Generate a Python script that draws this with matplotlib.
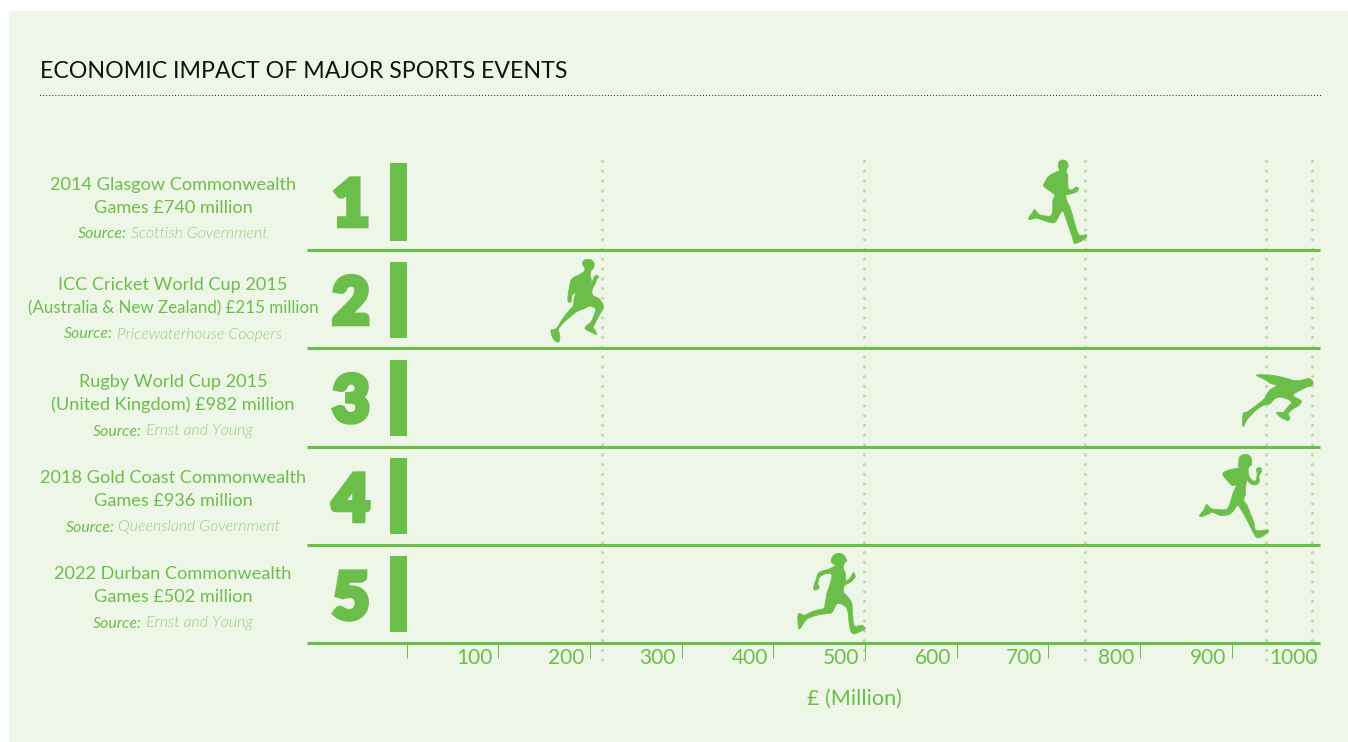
import numpy as np
import matplotlib
matplotlib.use("Agg")
import matplotlib.pyplot as plt
import matplotlib.patheffects as pe
from matplotlib.path import Path
from matplotlib.patches import Rectangle
from matplotlib.lines import Line2D
from matplotlib.transforms import ScaledTranslation

# ---------- data ----------
title = "ECONOMIC IMPACT OF MAJOR SPORTS EVENTS"
ranks = ["1", "2", "3", "4", "5"]
label_lines = [
    ["2014 Glasgow Commonwealth", "Games £740 million"],
    ["ICC Cricket World Cup 2015", "(Australia & New Zealand) £215 million"],
    ["Rugby World Cup 2015", "(United Kingdom) £982 million"],
    ["2018 Gold Coast Commonwealth", "Games £936 million"],
    ["2022 Durban Commonwealth", "Games £502 million"],
]
sources = ["Scottish Government", "Pricewaterhouse Coopers", "Ernst and Young",
           "Queensland Government", "Ernst and Young"]
# where the dotted line of each event sits on the printed axis
plotted_values = [740, 213, 988, 938, 499.5]
tick_values = [0, 100, 200, 300, 400, 500, 600, 700, 800, 900, 1000]
tick_labels = ["", "100", "200", "300", "400", "500", "600", "700", "800", "900", "1000"]
axis_title = "£ (Million)"

# ---------- style ----------
W, H = 1348, 742
BG = "#EEF6E7"
GREEN = "#6CBE4B"
LIGHT = "#93CF7C"
DOT = "#B6DDA8"
FONT = "Lato"
plt.rcParams["font.family"] = [FONT, "DejaVu Sans"]
plt.rcParams["lines.scale_dashes"] = False

# pictogram outlines (traced in zoomed px), anchored on (dotted line, row floor)
runner_outlines = [
    [(120,15),(132,14),(141,22),(143,33),(138,42),(138,52),(142,60),(142,80),(144,100),(155,103),(166,95),(173,97),(172,106),(162,112),(148,116),(137,118),(138,132),(146,150),(155,175),(163,205),(172,232),(180,240),(198,238),(196,247),(180,258),(162,264),(157,250),(145,215),(130,172),(122,170),(108,195),(100,202),(85,200),(55,190),(45,188),(30,192),(24,188),(35,172),(42,162),(50,170),(58,178),(88,182),(95,172),(97,155),(97,135),(103,120),(90,108),(70,92),(72,82),(85,62),(110,48),(118,45),(113,32),(115,20)],
    [(122,12),(136,13),(145,24),(143,38),(136,45),(134,55),(136,72),(138,82),(142,72),(147,62),(155,60),(158,66),(152,72),(148,85),(140,100),(140,118),(160,130),(172,148),(172,158),(160,180),(147,205),(142,215),(150,228),(152,237),(140,232),(118,220),(125,208),(135,200),(148,170),(148,158),(130,152),(118,158),(100,165),(88,172),(72,185),(50,205),(38,222),(42,240),(40,258),(30,258),(20,245),(15,225),(25,222),(35,215),(50,190),(70,165),(82,150),(85,128),(90,112),(78,120),(76,138),(68,140),(66,125),(72,90),(78,70),(105,55),(115,48),(117,38),(110,25),(113,16)],
    [(58,13),(100,14),(140,22),(170,30),(195,28),(212,24),(222,30),(225,40),(215,48),(205,50),(190,58),(175,65),(165,75),(180,85),(190,92),(182,105),(165,115),(150,130),(155,140),(150,150),(130,142),(115,128),(122,125),(135,125),(150,108),(160,95),(145,85),(125,80),(110,85),(95,100),(75,105),(55,118),(38,135),(25,150),(18,165),(13,165),(15,130),(25,125),(40,115),(60,100),(78,85),(90,65),(100,55),(115,45),(95,38),(85,30),(60,18)],
    [(132,20),(145,12),(160,14),(168,25),(168,42),(160,50),(158,62),(162,80),(175,92),(182,88),(185,70),(183,55),(195,52),(198,62),(190,78),(192,92),(182,103),(165,100),(155,90),(150,110),(150,130),(145,150),(155,165),(165,190),(175,215),(182,240),(215,238),(218,245),(200,258),(188,262),(180,258),(170,240),(155,210),(135,175),(125,165),(115,180),(100,192),(75,195),(50,185),(40,190),(20,198),(12,195),(25,178),(33,162),(42,170),(50,175),(80,178),(95,175),(105,155),(112,130),(122,105),(110,105),(95,90),(82,72),(90,62),(115,55),(132,52),(128,45),(130,35)],
    [(112,25),(125,15),(143,18),(155,35),(150,42),(145,50),(145,62),(150,72),(152,90),(150,100),(165,88),(175,72),(180,85),(170,98),(158,105),(148,112),(145,130),(158,145),(170,165),(172,195),(178,232),(200,230),(210,240),(200,247),(178,256),(168,250),(162,225),(155,180),(128,165),(112,190),(100,195),(75,198),(50,205),(35,212),(25,225),(15,240),(10,238),(8,205),(12,195),(28,200),(45,192),(65,185),(85,180),(90,165),(95,135),(102,115),(110,80),(95,75),(75,85),(68,105),(72,118),(60,125),(55,118),(62,95),(72,72),(100,62),(115,55),(120,50),(108,40)],
]
outline_anchor = [(195,285), (170,279), (223,231), (213,285), (208,285)]

def smooth_path(pts):
    """Closed outline as a Catmull-Rom curve running through every traced point."""
    n = len(pts)
    verts, codes = [pts[0]], [Path.MOVETO]
    for i in range(n):
        p0, p1, p2, p3 = pts[i - 1], pts[i], pts[(i + 1) % n], pts[(i + 2) % n]
        verts += [p1 + (p2 - p0) / 6, p2 - (p3 - p1) / 6, p2]
        codes += [Path.CURVE4] * 3
    verts.append(pts[0])
    codes.append(Path.CLOSEPOLY)
    return Path(np.array(verts), codes)

# ---------- canvas ----------
fig = plt.figure(figsize=(W / 100, H / 100), dpi=100, facecolor="white")
def fx(x): return x / W
def fy(y): return 1 - y / H

fig.patches.append(Rectangle((fx(9), 0), 1 - fx(9), fy(11), transform=fig.transFigure,
                             facecolor=BG, edgecolor="none", zorder=-5))

fig.text(fx(39.5), fy(78), title, fontsize=16.7, color="#111111", ha="left", va="baseline")
fig.add_artist(Line2D([fx(40), fx(1320)], [fy(95), fy(95)], transform=fig.transFigure,
                      color="#111111", lw=0.85, linestyle=(0, (0.01, 2.2)),
                      dash_capstyle="round"))

# ---------- chart axes: y runs in pixel rows, x in £ million ----------
AX_L, AX_R, AX_T, AX_B = 307, 1323.2, 155, 643
ax = fig.add_axes([fx(AX_L), fy(AX_B), (AX_R - AX_L) / W, (AX_B - AX_T) / H])
ax.patch.set_visible(False)
PX_PER_UNIT = 0.9166
ax.set_xlim((AX_L - 406.6) / PX_PER_UNIT, 1000)
ax.set_ylim(AX_B, AX_T)
ax.set_yticks([])
for s in ("top", "left", "right"):
    ax.spines[s].set_visible(False)
LINE_END = (1320 - 406.6) / PX_PER_UNIT
ax.spines["bottom"].set_color(GREEN)
ax.spines["bottom"].set_linewidth(2.2)
ax.spines["bottom"].set_capstyle("butt")
ax.spines["bottom"].set_bounds(ax.get_xlim()[0], LINE_END)

ax.set_xticks(tick_values)
ax.set_xticklabels(tick_labels)
ax.tick_params(axis="x", direction="out", length=10.5, width=0.7, color=GREEN,
               labelcolor=GREEN, labelsize=15, pad=-7)
offset = ScaledTranslation(-4 / 72, 0, fig.dpi_scale_trans)
for lab in ax.get_xticklabels():
    lab.set_ha("right")
    lab.set_transform(lab.get_transform() + offset)
ax.xaxis.get_major_ticks()[-1].tick1line.set_visible(False)

row_floor = [250, 348, 447, 545, 643]
bar_center = [202, 300, 398, 496, 594]
bar_height = [78, 76, 76, 76, 76]
ax.hlines(row_floor[:-1], ax.get_xlim()[0], LINE_END, color=GREEN, lw=2.2, zorder=3)
ax.barh(bar_center, 18.6, left=-18.2, height=bar_height, color=GREEN, zorder=3)

# dotted reference lines
for v in plotted_values:
    ax.plot([v, v], [161, 661], color=DOT, lw=2.3, clip_on=False, zorder=1,
            linestyle=(0, (0.01, 7.03)), dash_capstyle="round")

# runners as custom markers placed at each value
for v, floor, outline, anchor in zip(plotted_values, row_floor, runner_outlines, outline_anchor):
    pts = (np.array(outline, float) - np.array(anchor)) / 3 * np.array([1, -1])
    path = smooth_path(pts)
    R = np.abs(path.vertices).max()
    coll = ax.scatter([v], [floor], marker=path, s=(2 * R * 0.72) ** 2,
                      facecolor=GREEN, edgecolor=GREEN, linewidths=0.5, clip_on=False, zorder=4)
    coll.set_snap(False)

# big rank numerals
num_base = [227, 325, 423, 522, 620]
for r, b in zip(ranks, num_base):
    ax.text((351 - 406.6) / PX_PER_UNIT, b - 1.5, r, fontsize=46, fontweight="black", color=GREEN,
            ha="center", va="baseline", clip_on=False,
            path_effects=[pe.withStroke(linewidth=4, foreground=GREEN, joinstyle="miter")])

# left labels
baselines = [(190, 213, 238.5), (290, 313, 338.5), (387, 410, 435.5), (483, 506, 531.5), (579, 602, 627.5)]
line_sizes = [(13.05, 13.05), (13.05, 12.15), (13.05, 13.05), (13.05, 13.05), (13.05, 13.05)]
fig.canvas.draw()
rend = fig.canvas.get_renderer()
for lines, sizes, src, (b1, b2, b3) in zip(label_lines, line_sizes, sources, baselines):
    for t, b, sz in zip(lines, (b1, b2), sizes):
        fig.text(fx(173), fy(b), t, fontsize=sz, color=GREEN, ha="center", va="baseline")
    a = fig.text(0, fy(b3), "Source:", fontsize=11.4, color=GREEN, style="italic", va="baseline")
    c = fig.text(0, fy(b3), " " + src, fontsize=11.4, color=LIGHT, style="italic",
                 fontweight=300, va="baseline")
    wa = a.get_window_extent(rend).width
    wc = c.get_window_extent(rend).width
    start = 173 - (wa + wc) / 2
    a.set_x(fx(start))
    c.set_x(fx(start + wa))

fig.text(fx(854), fy(705), axis_title, fontsize=15.6, color=GREEN, ha="center", va="baseline")

fig.savefig("out.png", dpi=100, facecolor="white")
